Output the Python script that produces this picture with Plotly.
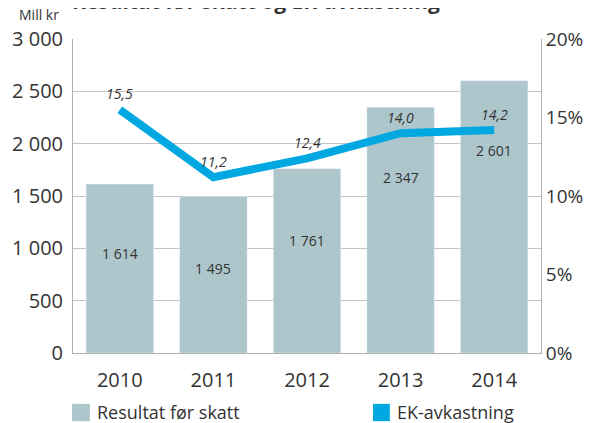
import plotly.graph_objects as go

years = ["2010", "2011", "2012", "2013", "2014"]
resultat = [1614, 1495, 1761, 2347, 2601]
ek_avk = [15.5, 11.2, 12.4, 14.0, 14.2]

bar_color = "#adc6cc"
line_color = "#00a8e1"
txt = "#333333"
font = "Open Sans"

fig = go.Figure()
fig.add_trace(go.Bar(x=years, y=resultat, marker_color=bar_color, width=0.72,
                     name="Resultat før skatt"))
fig.add_trace(go.Scatter(x=years, y=ek_avk, yaxis="y2", mode="lines",
                         line=dict(color=line_color, width=8), name="EK-avkastning"))

ann = []
# bar value labels, placed roughly where the original has them
label_pos = [952, 809, 1077, 1678, 1936]
for i, (v, p) in enumerate(zip(resultat, label_pos)):
    ann.append(dict(x=i, y=p, text=f"{v:,}".replace(",", " "), showarrow=False,
                    font=dict(size=14, color=txt)))
for i, v in enumerate(ek_avk):
    ann.append(dict(x=i, y=v, yref="y2", text="<i>" + f"{v:.1f}".replace(".", ",") + "</i>",
                    showarrow=False, yshift=16, font=dict(size=14, color=txt)))

# title (cut off at the top in the original) and unit
ann.append(dict(xref="paper", yref="paper", x=-0.006, y=1.07, xanchor="left", yanchor="bottom",
                text="<b>Resultat før skatt og EK-avkastning</b>", showarrow=False,
                font=dict(size=21, color=txt)))
ann.append(dict(xref="paper", yref="paper", x=-0.025, y=1.042, xanchor="right", yanchor="bottom",
                text="Mill kr", showarrow=False, font=dict(size=14, color=txt)))

# legend
ann.append(dict(xref="paper", yref="paper", x=0.047, y=-0.188, xanchor="left", yanchor="middle",
                text="Resultat før skatt", showarrow=False, font=dict(size=18, color=txt)))
ann.append(dict(xref="paper", yref="paper", x=0.688, y=-0.188, xanchor="left", yanchor="middle",
                text="EK-avkastning", showarrow=False, font=dict(size=18, color=txt)))
shapes = [
    dict(type="rect", xref="paper", yref="paper", x0=-0.002, x1=0.036, y0=-0.162, y1=-0.217,
         fillcolor=bar_color, line=dict(width=0)),
    dict(type="rect", xref="paper", yref="paper", x0=0.641, x1=0.677, y0=-0.162, y1=-0.217,
         fillcolor=line_color, line=dict(width=0)),
]

# page body has an 8px margin, so the figure is 8px smaller than the window
fig.update_layout(
    width=584, height=415,
    margin=dict(l=65, r=51, t=31, b=70, autoexpand=False),
    paper_bgcolor="white", plot_bgcolor="white",
    separators=", ",
    showlegend=False,
    font=dict(family=font, color=txt),
    annotations=ann, shapes=shapes,
    xaxis=dict(type="category", range=[-0.5, 4.5], showline=True, linecolor="#b0b0b0",
               linewidth=1, ticks="", tickfont=dict(size=20), ticklabelstandoff=9,
               automargin=False),
    yaxis=dict(range=[0, 3000], dtick=500, tickformat=",d", showgrid=True,
               gridcolor="#c4c4c4", gridwidth=1, showline=True, linecolor="#b0b0b0",
               tickfont=dict(size=20), zeroline=False, ticklabelstandoff=5, automargin=False),
    yaxis2=dict(range=[0, 20], dtick=5, ticksuffix="%", overlaying="y", side="right",
                showgrid=False, showline=True, linecolor="#b0b0b0", zeroline=False,
                tickfont=dict(size=19), ticklabelstandoff=0, automargin=False),
)

fig.write_html("out.html")
